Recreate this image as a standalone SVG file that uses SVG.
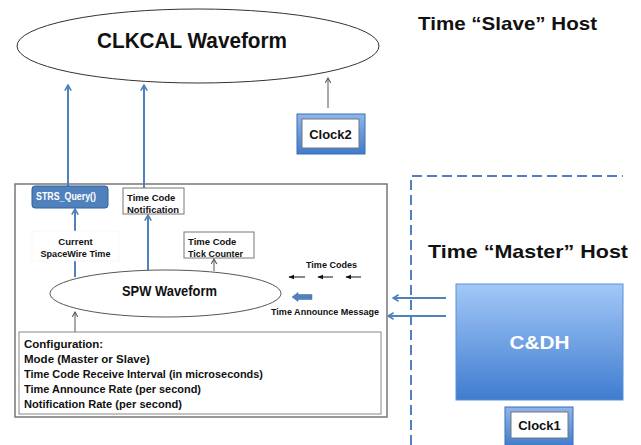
<svg xmlns="http://www.w3.org/2000/svg" width="641" height="445" viewBox="0 0 641 445">
  <style>
    text { font-family: "Liberation Sans", Arial, sans-serif; font-weight: bold; fill: #111; }
    .blue { stroke: #4f81bd; stroke-width: 2; fill: none; }
    .thin { stroke: #555; stroke-width: 1; fill: none; }
    .box { fill: #fff; stroke: #777; stroke-width: 1; }
    .small { font-size: 9.5px; }
    .cfg { font-size: 11.5px; }
  </style>
  <defs>
    <marker id="headBlue" viewBox="0 0 10 10" refX="9" refY="5" markerWidth="8" markerHeight="8" markerUnits="userSpaceOnUse" orient="auto">
      <polyline points="2,1 9,5 2,9" fill="none" stroke="#4f81bd" stroke-width="2"/>
    </marker>
    <marker id="headThin" viewBox="0 0 10 10" refX="9" refY="5" markerWidth="7" markerHeight="7" markerUnits="userSpaceOnUse" orient="auto">
      <polyline points="2,1 9,5 2,9" fill="none" stroke="#555" stroke-width="1.5"/>
    </marker>
    <marker id="headFill" viewBox="0 0 10 10" refX="9" refY="5" markerWidth="6" markerHeight="6" markerUnits="userSpaceOnUse" orient="auto">
      <polygon points="0,1 10,5 0,9" fill="#111"/>
    </marker>
    <linearGradient id="gradBox" x1="0" y1="0" x2="0" y2="1">
      <stop offset="0" stop-color="#a3c8f8"/>
      <stop offset="1" stop-color="#3f7ccf"/>
    </linearGradient>
    <linearGradient id="gradFrame" x1="0" y1="0" x2="0" y2="1">
      <stop offset="0" stop-color="#8fb6ec"/>
      <stop offset="1" stop-color="#3e7bcc"/>
    </linearGradient>
  </defs>

  <rect width="641" height="445" fill="#fff"/>

  <!-- host titles -->
  <text x="418" y="30" font-size="19" textLength="179" lengthAdjust="spacingAndGlyphs">Time “Slave” Host</text>
  <text x="428" y="258" font-size="19" textLength="200" lengthAdjust="spacingAndGlyphs">Time “Master” Host</text>

  <!-- master host boundary -->
  <path d="M411,445 V176 H623" fill="none" stroke="#4f81bd" stroke-width="2" stroke-dasharray="10,5"/>

  <g id="clkcal">
    <ellipse cx="198" cy="46" rx="181" ry="37" fill="#fff" stroke="#333" stroke-width="1"/>
    <text x="192" y="48" font-size="22" text-anchor="middle" textLength="190" lengthAdjust="spacingAndGlyphs">CLKCAL Waveform</text>
  </g>

  <g id="clock2">
    <rect x="297" y="114" width="68" height="40" fill="url(#gradFrame)" stroke="#3a6fb5" stroke-width="1"/>
    <rect x="302" y="119" width="57" height="29" class="box"/>
    <text x="330.5" y="138.5" font-size="13" text-anchor="middle">Clock2</text>
  </g>

  <g id="spw-host">
    <rect x="15" y="184" width="372" height="233" fill="#fff" stroke="#777" stroke-width="1.5"/>
  </g>

  <g id="connectors">
    <!-- SPW to CLKCAL -->
    <line x1="68" y1="186" x2="68" y2="85" class="blue" marker-end="url(#headBlue)"/>
    <line x1="144" y1="188" x2="144" y2="85" class="blue" marker-end="url(#headBlue)"/>
    <line x1="328" y1="108" x2="328" y2="78" class="thin" marker-end="url(#headThin)"/>
    <!-- inside SPW -->
    <line x1="75" y1="277" x2="75" y2="209" class="blue" marker-end="url(#headBlue)"/>
    <line x1="148" y1="270" x2="148" y2="215" class="blue" marker-end="url(#headBlue)"/>
    <line x1="214" y1="271" x2="214" y2="259" class="thin" marker-end="url(#headThin)"/>
    <line x1="75" y1="332" x2="75" y2="312" class="thin" marker-end="url(#headThin)"/>
    <!-- time codes -->
    <line x1="305" y1="277" x2="289" y2="277" stroke="#111" stroke-width="1" marker-end="url(#headFill)"/>
    <line x1="333" y1="277" x2="318" y2="277" stroke="#111" stroke-width="1" marker-end="url(#headFill)"/>
    <line x1="361" y1="277" x2="346" y2="277" stroke="#111" stroke-width="1" marker-end="url(#headFill)"/>
    <!-- time announce block arrow -->
    <polygon points="292,297 298,292.5 298,294.5 312,294.5 312,299.5 298,299.5 298,301.5" fill="#4f81bd" stroke="#3a6aa5" stroke-width="0.5"/>
    <!-- C&DH to SPW -->
    <line x1="446" y1="298" x2="393" y2="298" class="blue" marker-end="url(#headBlue)"/>
    <line x1="446" y1="316" x2="388" y2="316" class="blue" marker-end="url(#headBlue)"/>
  </g>

  <g id="strs-query">
    <rect x="32" y="186" width="76" height="22" rx="3" fill="#4f81bd" stroke="#345f98" stroke-width="1"/>
    <text x="36" y="200" font-size="10" fill="#fff" style="fill:#fff" textLength="60" lengthAdjust="spacingAndGlyphs">STRS_Query()</text>
  </g>

  <g id="notification">
    <rect x="123" y="188" width="61" height="26" class="box"/>
    <text x="127" y="200.5" class="small">Time Code</text>
    <text x="127" y="212.5" class="small" textLength="52" lengthAdjust="spacingAndGlyphs">Notification</text>
  </g>

  <g id="current-time">
    <rect x="32" y="231" width="87" height="30" fill="#fff" stroke="#eee" stroke-width="0.5"/>
    <text x="75.5" y="244.5" class="small" text-anchor="middle">Current</text>
    <text x="75.5" y="256.5" class="small" text-anchor="middle" textLength="70" lengthAdjust="spacingAndGlyphs">SpaceWire Time</text>
  </g>

  <g id="tick-counter">
    <rect x="184" y="232" width="70" height="26" class="box"/>
    <text x="188" y="244.5" class="small">Time Code</text>
    <text x="188" y="256.5" class="small" textLength="55" lengthAdjust="spacingAndGlyphs">Tick Counter</text>
  </g>

  <g id="spw">
    <ellipse cx="165.5" cy="293.5" rx="115.5" ry="23.5" fill="#fff" stroke="#555" stroke-width="1"/>
    <text x="169.5" y="296" font-size="15" text-anchor="middle" textLength="95" lengthAdjust="spacingAndGlyphs">SPW Waveform</text>
  </g>

  <g id="labels">
    <text x="331.5" y="268" class="small" text-anchor="middle" textLength="51" lengthAdjust="spacingAndGlyphs">Time Codes</text>
    <text x="325" y="314.5" class="small" text-anchor="middle" textLength="108" lengthAdjust="spacingAndGlyphs">Time Announce Message</text>
  </g>

  <g id="configuration">
    <rect x="19" y="332" width="362" height="82" fill="#fff" stroke="#888" stroke-width="1"/>
    <text x="24" y="348" class="cfg">Configuration:</text>
    <text x="24" y="362.5" class="cfg">Mode (Master or Slave)</text>
    <text x="24" y="377.5" class="cfg" textLength="239" lengthAdjust="spacingAndGlyphs">Time Code Receive Interval (in microseconds)</text>
    <text x="24" y="392.5" class="cfg" textLength="177" lengthAdjust="spacingAndGlyphs">Time Announce Rate (per second)</text>
    <text x="24" y="407.5" class="cfg" textLength="158" lengthAdjust="spacingAndGlyphs">Notification Rate (per second)</text>
  </g>

  <g id="cdh">
    <rect x="456" y="284" width="167" height="116" fill="url(#gradBox)" stroke="#5b8fd6" stroke-width="1"/>
    <text x="539.5" y="349" font-size="18" text-anchor="middle" style="fill:#fff" textLength="60" lengthAdjust="spacingAndGlyphs">C&amp;DH</text>
  </g>

  <g id="clock1">
    <rect x="505" y="407" width="68" height="40" fill="url(#gradFrame)" stroke="#3a6fb5" stroke-width="1"/>
    <rect x="511" y="412" width="57" height="26" class="box"/>
    <text x="539.5" y="430" font-size="13" text-anchor="middle">Clock1</text>
  </g>
</svg>
